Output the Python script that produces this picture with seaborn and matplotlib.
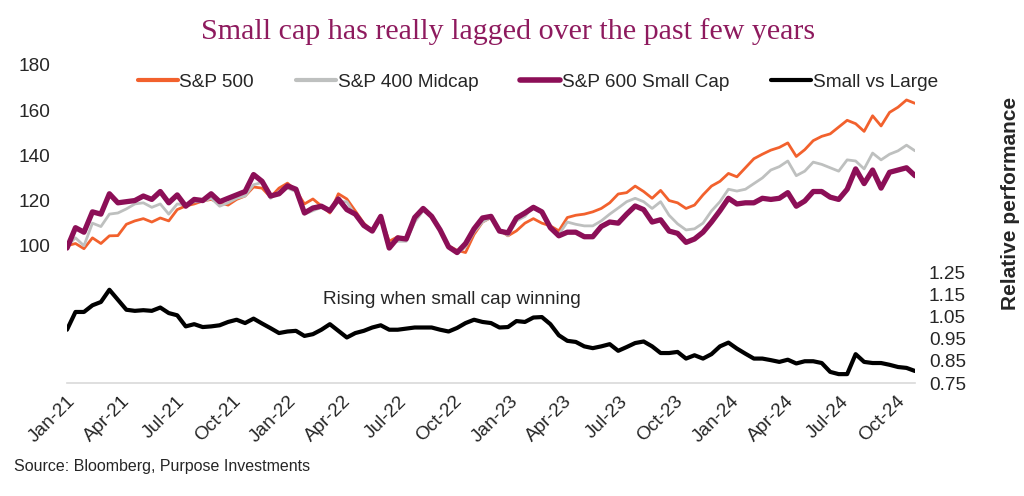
import numpy as np
import pandas as pd
import matplotlib
matplotlib.use("Agg")
import matplotlib.pyplot as plt
import matplotlib.dates as mdates
from matplotlib.lines import Line2D
import seaborn as sns

# ---------------- data (bi-weekly) ----------------
dates = pd.date_range("2021-01-01", periods=101, freq="14D")

sp500 = [100, 101, 98.7, 103.5, 101, 104.4, 104.5, 109.5, 111, 112,
         110.5, 112.3, 111, 116, 117.6, 118.5, 119.8, 120.5, 119, 118,
         120.5, 122, 126, 125.5, 121.5, 125.5, 127.7, 124.5, 118.5, 120.7,
         117.6, 114.5, 123, 120.7, 115.4, 110, 106.5, 112.5, 102, 104,
         102.5, 111, 116, 113, 107, 100, 98, 97, 105, 110.5,
         112.5, 107, 104.4, 106.6, 110, 112, 110, 108.8, 106.6, 112.5,
         113.5, 114, 115, 116.5, 119, 122.9, 123.5, 126.4, 124, 121,
         124.5, 120, 119, 116.5, 118, 122.5, 126.4, 128.5, 132, 130.5,
         134.5, 138.5, 140.5, 142.3, 143.5, 145.5, 139.5, 142.5, 146.5, 148.4,
         149.5, 152.5, 155.5, 154, 150.6, 157.5, 153, 159, 161.3, 164.5,
         163]

sp400 = [100, 103.5, 100, 110, 108.5, 114, 114.5, 116.3, 118.5, 119,
         117, 118.5, 114, 118.5, 118, 119.5, 119.5, 121, 117.5, 119,
         121, 122, 127, 128, 121, 124, 125.5, 124, 114, 115.5,
         117, 115.5, 119.5, 119.5, 113.5, 108.5, 106.5, 112, 101, 102,
         102, 110.5, 115.5, 113, 107, 99.5, 96.5, 99.5, 106, 110.5,
         112.5, 107, 104.5, 111, 113, 117.5, 115, 107.5, 105, 110.5,
         109.5, 108.8, 108.8, 111, 114, 116.7, 119.5, 121, 119.5, 116.5,
         119.5, 113.5, 109.7, 107, 107.5, 110, 115.4, 119.5, 125, 124.2,
         125, 127.5, 130, 133.5, 135, 137.5, 131, 133, 137, 136,
         134.5, 133, 138, 137.5, 134, 141, 138, 140.5, 142, 144.5,
         142]

sp600 = [99, 108, 106, 115, 114, 123, 119, 119.5, 120, 122,
         120.5, 124, 119, 122.5, 117.5, 120.5, 120, 123, 119.5, 121,
         122.5, 124, 131.5, 128.5, 122, 123, 126.5, 125, 114.5, 116.7,
         117.5, 115.5, 120.7, 116, 114, 109, 106.5, 113, 99, 103.5,
         103, 112.5, 116.5, 113, 107, 99.5, 97, 101, 107.5, 112.3,
         113, 106.5, 105.7, 112.3, 114.5, 117, 115, 108, 104.4, 106,
         106, 104, 104, 108.5, 110.5, 110, 114, 117.6, 116, 110.5,
         111.5, 106.5, 105.5, 101.5, 103, 106, 110.5, 115.5, 121, 118.5,
         119, 119, 121, 120.5, 121, 123.5, 117.5, 119.8, 124, 124,
         121.5, 120.5, 125, 134, 127.5, 133.5, 125.5, 132.5, 133.5, 134.5,
         131]

small_vs_large = [0.99, 1.07, 1.07, 1.10, 1.115, 1.17, 1.125, 1.08, 1.075, 1.078,
                  1.075, 1.09, 1.065, 1.055, 1.005, 1.015, 1.002, 1.005, 1.01, 1.025,
                  1.035, 1.02, 1.04, 1.018, 0.997, 0.975, 0.982, 0.985, 0.962, 0.97,
                  0.99, 1.015, 0.985, 0.955, 0.975, 0.985, 1.0, 1.01, 0.99, 0.99,
                  0.995, 1.0, 1.0, 1.0, 0.99, 0.982, 0.998, 1.02, 1.035, 1.025,
                  1.02, 1.0, 1.002, 1.029, 1.025, 1.045, 1.047, 1.015, 0.965, 0.94,
                  0.935, 0.915, 0.907, 0.915, 0.925, 0.895, 0.912, 0.93, 0.937, 0.915,
                  0.885, 0.885, 0.89, 0.86, 0.875, 0.86, 0.88, 0.915, 0.932, 0.905,
                  0.882, 0.86, 0.86, 0.853, 0.845, 0.855, 0.838, 0.848, 0.848, 0.84,
                  0.80, 0.79, 0.79, 0.88, 0.845, 0.84, 0.84, 0.832, 0.822, 0.818,
                  0.804]

left_ticks = [100, 120, 140, 160, 180]
right_ticks = [0.75, 0.85, 0.95, 1.05, 1.15, 1.25]
series_names = ["S&P 500", "S&P 400 Midcap", "S&P 600 Small Cap", "Small vs Large"]
title = "Small cap has really lagged over the past few years"
note = "Rising when small cap winning"
source = "Source: Bloomberg, Purpose Investments"
right_label = "Relative performance"

# ---------------- styling ----------------
sns.set_style("white")
plt.rcParams["font.family"] = ["Liberation Sans", "DejaVu Sans"]

C_ORANGE = "#F2612D"
C_GRAY = "#BEC0BF"
C_PURPLE = "#8C0F57"
C_BLACK = "#000000"
C_TITLE = "#8E1A5E"
FS = 13.7

fig = plt.figure(figsize=(10.24, 4.96), dpi=100)
ax = fig.add_axes([67 / 1024, 1 - 383 / 496, 848 / 1024, 319 / 496])
ax2 = ax.twinx()

df = pd.DataFrame({"date": dates, "sp500": sp500, "sp400": sp400,
                   "sp600": sp600, "rel": small_vs_large})

sns.lineplot(data=df, x="date", y="sp500", ax=ax, color=C_ORANGE, lw=2.0)
sns.lineplot(data=df, x="date", y="sp400", ax=ax, color=C_GRAY, lw=2.0)
sns.lineplot(data=df, x="date", y="sp600", ax=ax, color=C_PURPLE, lw=3.8)
sns.lineplot(data=df, x="date", y="rel", ax=ax2, color=C_BLACK, lw=3.0)

ax.set_xlim(dates[0], dates[-1])
ax.set_ylim(39.3, 180.4)
ax2.set_ylim(0.75, 2.187)

ax.set_yticks(left_ticks)
ax.set_yticklabels([str(t) for t in left_ticks], fontsize=FS)
ax2.set_yticks(right_ticks)
ax2.set_yticklabels([f"{t:.2f}" for t in right_ticks], fontsize=FS)
ax.tick_params(axis="y", length=0, pad=12)
ax2.tick_params(axis="y", length=0, pad=10)

xt = pd.date_range("2021-01-01", "2024-10-01", freq="QS")
ax.set_xticks(xt)
ax.xaxis.set_major_formatter(mdates.DateFormatter("%b-%y"))
ax.tick_params(axis="x", length=5, width=1, color="#D9D9D9", direction="out", pad=2)
for lab in ax.get_xticklabels():
    lab.set_rotation(45)
    lab.set_ha("right")
    lab.set_rotation_mode("anchor")
    lab.set_fontsize(FS)

ax.set_xlabel("")
ax.set_ylabel("")
ax2.set_ylabel("")
for a in (ax, ax2):
    for s in ("top", "left", "right"):
        a.spines[s].set_visible(False)
    a.grid(False)
ax2.spines["bottom"].set_visible(False)
ax.spines["bottom"].set_color("#D9D9D9")
ax.spines["bottom"].set_linewidth(1.2)

handles = [Line2D([], [], color=C_ORANGE, lw=3.0),
           Line2D([], [], color=C_GRAY, lw=3.0),
           Line2D([], [], color=C_PURPLE, lw=4.0),
           Line2D([], [], color=C_BLACK, lw=3.0)]
fig.legend(handles, series_names, loc="center", ncol=4, frameon=False,
           bbox_to_anchor=(538 / 1024, 1 - 82 / 496), fontsize=FS,
           handlelength=2.1, handletextpad=0.1, columnspacing=2.2)

fig.text(508 / 1024, 1 - 32 / 496, title, ha="center", va="center",
         fontsize=21.6, color=C_TITLE, family=["Liberation Serif", "DejaVu Serif"])
fig.text(323 / 1024, 1 - 299 / 496, note, ha="left", va="center", fontsize=FS)
fig.text(14 / 1024, 1 - 467 / 496, source, ha="left", va="center", fontsize=11.5)
fig.text(1010 / 1024, 1 - 203 / 496, right_label, ha="center", va="center",
         rotation=90, fontsize=15, fontweight="bold")

fig.savefig("out.png", dpi=100)
